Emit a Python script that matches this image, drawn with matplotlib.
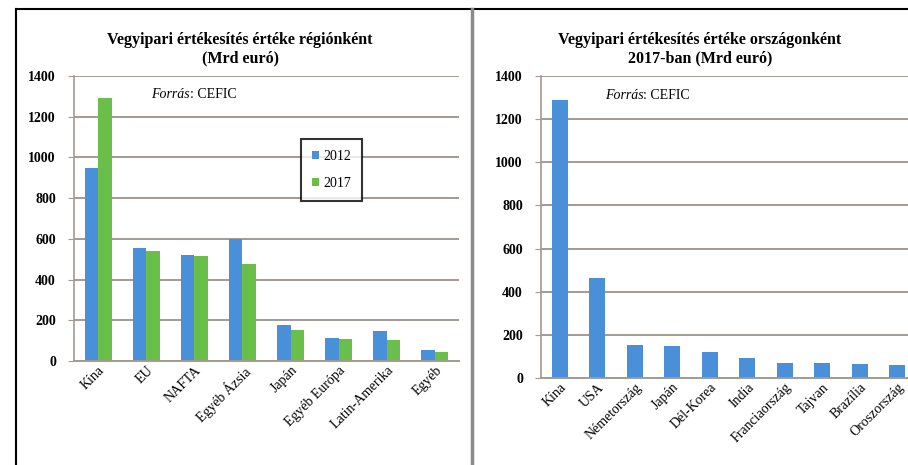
import numpy as np
import matplotlib
matplotlib.use("Agg")
import matplotlib.pyplot as plt
from matplotlib.lines import Line2D

# data
regions = ["Kína", "EU", "NAFTA", "Egyéb Ázsia", "Japán", "Egyéb Európa",
           "Latin-Amerika", "Egyéb"]
sales_2012 = [950, 555, 520, 600, 175, 115, 145, 55]
sales_2017 = [1290, 540, 515, 475, 150, 110, 105, 45]

countries = ["Kína", "USA", "Németország", "Japán", "Dél-Korea", "India",
             "Franciaország", "Tajvan", "Brazília", "Oroszország"]
country_2017 = [1290, 465, 155, 150, 120, 95, 70, 68, 65, 60]

years = ["2012", "2017"]
yticks = [0, 200, 400, 600, 800, 1000, 1200, 1400]

BLUE = "#4a90d9"
GREEN = "#6abf4b"
GRID = "#a39a95"

plt.rcParams['font.family'] = ['Liberation Serif', 'DejaVu Serif']

W, H = 908, 465
fig = plt.figure(figsize=(W / 100, H / 100), dpi=100)


def px_axes(x0, y_top, x1, y_bot):
    return fig.add_axes([x0 / W, 1 - y_bot / H, (x1 - x0) / W, (y_bot - y_top) / H])


def style(ax):
    ax.set_ylim(0, 1400)
    ax.set_yticks(yticks)
    ax.yaxis.grid(True, color=GRID, linewidth=1.4)
    ax.set_axisbelow(True)
    for s in ["top", "right"]:
        ax.spines[s].set_visible(False)
    ax.spines["left"].set_color(GRID)
    ax.spines["bottom"].set_color(GRID)
    ax.spines["left"].set_linewidth(1.2)
    ax.spines["bottom"].set_linewidth(1.4)
    ax.tick_params(axis="y", length=4, color=GRID, labelsize=10, pad=9)
    ax.tick_params(axis="x", length=0, labelsize=10, pad=2)
    for lab in ax.get_yticklabels():
        lab.set_fontweight("bold")
    ax.set_facecolor("none")


def source(ax, xpos):
    t = ax.text(xpos, 0.935, "Forrás", style="italic", fontsize=10,
                transform=ax.transAxes, va="center")
    ax.annotate(": CEFIC", xy=(1, 0.5), xycoords=t, va="center", fontsize=10)


# left chart
ax1 = px_axes(74, 76, 459, 361)
x = np.arange(len(regions))
w = 0.28
ax1.bar(x - w / 2, sales_2012, w, color=BLUE, label=years[0])
ax1.bar(x + w / 2, sales_2017, w, color=GREEN, label=years[1])
ax1.set_xlim(-0.5, len(regions) - 0.5)
ax1.set_xticks(x)
ax1.set_xticklabels(regions, rotation=45, ha="right", rotation_mode="anchor")
style(ax1)
source(ax1, 0.2)
leg = ax1.legend(loc="upper left", bbox_to_anchor=(0.59, 0.78), frameon=True,
                 fancybox=False, edgecolor="black", fontsize=10,
                 handlelength=0.5, handleheight=0.5, handletextpad=0.3,
                 borderpad=0.8, labelspacing=1.0, borderaxespad=0)
leg.get_frame().set_linewidth(1.5)
fig.text(240 / W, 1 - 49 / H, "Vegyipari értékesítés értéke régiónként\n(Mrd euró)",
         ha="center", va="center", fontsize=11.5, fontweight="bold", linespacing=1.15)

# right chart
ax2 = px_axes(541, 76, 916, 378)
xc = np.arange(len(countries))
ax2.bar(xc, country_2017, 0.43, color=BLUE)
ax2.set_xlim(-0.5, len(countries) - 0.5)
ax2.set_xticks(xc)
ax2.set_xticklabels(countries, rotation=45, ha="right", rotation_mode="anchor")
style(ax2)
source(ax2, 0.17)
fig.text(700 / W, 1 - 49 / H, "Vegyipari értékesítés értéke országonként\n2017-ban (Mrd euró)",
         ha="center", va="center", fontsize=11.5, fontweight="bold", linespacing=1.15)

# outer frame
fig.add_artist(Line2D([16 / W, 1], [1 - 9 / H, 1 - 9 / H], color="black", linewidth=1.5))
fig.add_artist(Line2D([16 / W, 16 / W], [0, 1 - 9 / H], color="black", linewidth=1.5))
fig.add_artist(Line2D([472 / W, 472 / W], [0, 1 - 9 / H], color="#8a8a8a", linewidth=2.5))

fig.savefig("out.png", dpi=100)
